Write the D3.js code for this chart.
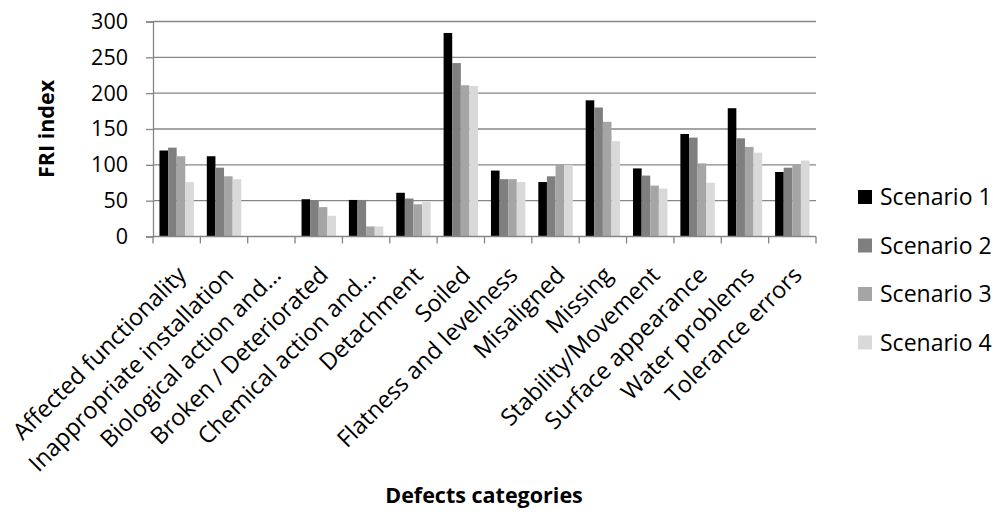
<!DOCTYPE html>
<html><head><meta charset="utf-8">
<script src="https://cdn.jsdelivr.net/npm/d3@7/dist/d3.min.js"></script>
<style>
html,body{margin:0;padding:0;background:#fff;}
text{font-family:"Open Sans","Noto Sans",sans-serif;fill:#000;}
</style></head>
<body><svg id="c" width="997" height="514"></svg>
<script>
const categories = ["Affected functionality","Inappropriate installation","Biological action and…","Broken / Deteriorated","Chemical action and…","Detachment","Soiled","Flatness and levelness","Misaligned","Missing","Stability/Movement","Surface appearance","Water problems","Tolerance errors"];
const seriesNames = ["Scenario 1","Scenario 2","Scenario 3","Scenario 4"];
const scenario1 = [120,112,0,52,51,61,284,92,76,190,95,143,179,90];
const scenario2 = [124,96,0,50,51,53,242,80,84,180,85,138,137,96];
const scenario3 = [112,84,0,41,14,45,211,80,100,160,71,102,125,100];
const scenario4 = [76,80,0,29,14,48,210,76,100,133,67,75,117,106];
const yTicks = [0,50,100,150,200,250,300];
const colors = ["#000000","#7f7f7f","#a5a5a5","#d9d9d9"];
const seriesValues = [scenario1,scenario2,scenario3,scenario4];

const svg = d3.select("#c");
const L=153, R=816, T=21.5, B=236.5;
const x0 = d3.scaleBand().domain(categories).range([L,R]).paddingInner(0).paddingOuter(0);
const x1 = d3.scaleBand().domain(seriesNames).range([0,x0.bandwidth()]).paddingInner(0).paddingOuter(0.75);
const y = d3.scaleLinear().domain([0,300]).range([B,T]);
const grid="#868686";

// gridlines
svg.append("g").selectAll("line").data(yTicks.filter(d=>d>0)).join("line")
  .attr("x1",L).attr("x2",R).attr("y1",d=>y(d)).attr("y2",d=>y(d))
  .attr("stroke",grid).attr("stroke-width",1.3);

// bars
const g = svg.append("g");
categories.forEach((c,i)=>{
  seriesNames.forEach((s,j)=>{
    const v = seriesValues[j][i];
    if(v>0) g.append("rect").attr("x",x0(c)+x1(s)).attr("width",x1.bandwidth())
      .attr("y",y(v)).attr("height",y(0)-y(v)).attr("fill",colors[j]);
  });
});

// y axis
const ya = svg.append("g").attr("transform",`translate(${L},0)`)
  .call(d3.axisLeft(y).tickValues(yTicks).tickSize(7).tickPadding(18));
ya.select(".domain").attr("stroke",grid).attr("stroke-width",1.3);
ya.selectAll(".tick line").attr("stroke",grid).attr("stroke-width",1.3);
ya.selectAll(".tick text").attr("font-size",21.5).attr("font-family","Open Sans").attr("fill","#000");

// x axis line and ticks at boundaries
svg.append("line").attr("x1",L).attr("x2",R).attr("y1",B).attr("y2",B).attr("stroke",grid).attr("stroke-width",1.3);
const bounds = categories.map(c=>x0(c)).concat([R]);
svg.append("g").selectAll("line").data(bounds).join("line")
  .attr("x1",d=>d).attr("x2",d=>d).attr("y1",B).attr("y2",B+7)
  .attr("stroke",grid).attr("stroke-width",1.3);

// x labels
svg.append("g").selectAll("text").data(categories).join("text")
  .attr("transform",d=>`translate(${x0(d)+x0.bandwidth()/2+11},${B+40}) rotate(-45)`)
  .attr("text-anchor","end").attr("font-size",23.5).text(d=>d);

// axis titles
svg.append("text").attr("transform","translate(54,129) rotate(-90)")
  .attr("text-anchor","middle").attr("font-size",21.5).attr("font-weight","bold").text("FRI index");
svg.append("text").attr("x",484).attr("y",503).attr("text-anchor","middle")
  .attr("font-size",21.5).attr("font-weight","bold").text("Defects categories");

// legend
const lg = svg.append("g");
seriesNames.forEach((s,j)=>{
  const cy = 197 + j*48.5;
  lg.append("rect").attr("x",858).attr("y",cy-7).attr("width",14).attr("height",14).attr("fill",colors[j]);
  lg.append("text").attr("x",880).attr("y",cy+8).attr("font-size",23).text(s);
});
</script></body></html>
